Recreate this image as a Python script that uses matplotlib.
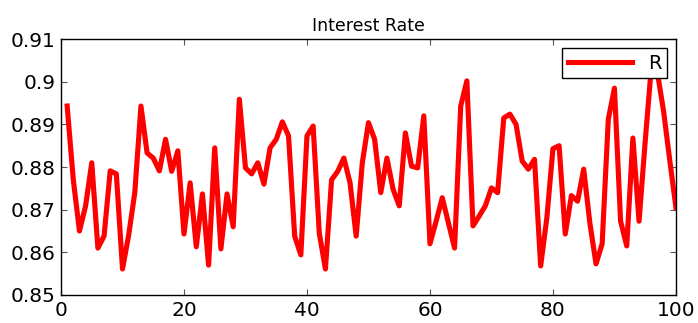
import matplotlib
matplotlib.use('Agg')
import matplotlib.pyplot as plt
import numpy as np

plt.rcParams['font.family'] = ['DejaVu Sans']

periods = np.arange(1, 101)
rate = [
    0.8943, 0.8770, 0.8650, 0.8709, 0.8810, 0.8610, 0.8638, 0.8791, 0.8784, 0.8561,
    0.8640, 0.8740, 0.8943, 0.8833, 0.8821, 0.8791, 0.8865, 0.8790, 0.8838, 0.8643,
    0.8763, 0.8613, 0.8737, 0.8570, 0.8845, 0.8608, 0.8737, 0.8660, 0.8959, 0.8798,
    0.8784, 0.8810, 0.8760, 0.8845, 0.8865, 0.8906, 0.8873, 0.8638, 0.8594, 0.8873,
    0.8896, 0.8645, 0.8561, 0.8770, 0.8790, 0.8821, 0.8763, 0.8638, 0.8810, 0.8904,
    0.8865, 0.8740, 0.8821, 0.8748, 0.8709, 0.8880, 0.8802, 0.8798, 0.8920, 0.8620,
    0.8673, 0.8728, 0.8669, 0.8610, 0.8943, 0.9002, 0.8662, 0.8685, 0.8709, 0.8751,
    0.8740, 0.8915, 0.8924, 0.8900, 0.8814, 0.8795, 0.8818, 0.8568, 0.8680, 0.8843,
    0.8850, 0.8643, 0.8733, 0.8720, 0.8795, 0.8669, 0.8573, 0.8620, 0.8912, 0.8985,
    0.8673, 0.8615, 0.8868, 0.8673, 0.8860, 0.9035, 0.9020, 0.8930, 0.8815, 0.8705,
]

fig = plt.figure(figsize=(6.98, 3.23), dpi=100)
ax = fig.add_axes([0.0874, 0.0867, 0.881, 0.7923])
ax.plot(periods, rate, color='#ff0000', linewidth=3.7, label='R')
ax.set_xlim(0, 100)
ax.set_ylim(0.85, 0.91)
ax.set_xticks(np.arange(0, 101, 20))
ax.set_yticks(np.arange(0.85, 0.911, 0.01))
ax.set_yticklabels(['0.85', '0.86', '0.87', '0.88', '0.89', '0.9', '0.91'])
ax.tick_params(direction='in', top=True, right=True, labelsize=14.5, length=4,
               color='#555555', pad=4)
for s in ax.spines.values():
    s.set_linewidth(1.0)
ax.set_title('Interest Rate', fontsize=12.5, pad=6)
leg = ax.legend(loc='upper right', fontsize=14, fancybox=False, framealpha=1,
                edgecolor='black', handlelength=3.3, borderpad=0.3,
                borderaxespad=0.45)
leg.get_frame().set_linewidth(1.0)
fig.savefig('out.png', dpi=100)
